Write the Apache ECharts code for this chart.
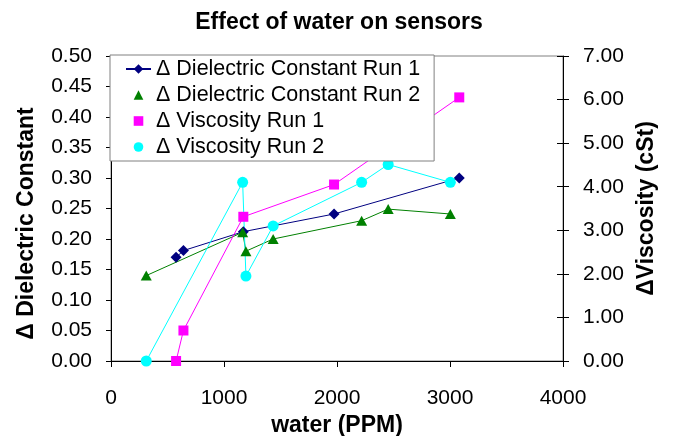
<!DOCTYPE html>
<html>
<head>
<meta charset="utf-8">
<script src="https://cdn.jsdelivr.net/npm/echarts@6/dist/echarts.min.js"></script>
<style>
  html, body { margin: 0; padding: 0; background: #fff; }
  #main { width: 678px; height: 436px; }
</style>
</head>
<body>
<div id="main"></div>
<script>
// run 1 readings
var water1 = [576, 641, 1171, 1974, 3082];
var dielectric1 = [0.170, 0.181, 0.212, 0.241, 0.300];
var viscosity1 = [0.00, 0.70, 3.31, 4.05, 6.05];
// run 2 readings
var water2 = [312, 1165, 1194, 1435, 2218, 2453, 3003];
var dielectric2 = [0.140, 0.211, 0.180, 0.200, 0.230, 0.249, 0.241];
var viscosity2 = [0.00, 4.10, 1.95, 3.10, 4.10, 4.51, 4.10];

var seriesNames = [
  "\u0394 Dielectric Constant Run 1",
  "\u0394 Dielectric Constant Run 2",
  "\u0394 Viscosity Run 1",
  "\u0394 Viscosity Run 2"
];

function pairs(xs, ys) {
  return xs.map(function (x, i) { return [x, ys[i]]; });
}

var font = "Liberation Sans, Arial, sans-serif";
var chartDom = document.getElementById("main");
var myChart = echarts.init(chartDom);
var option;

option = {
  animation: false,
  textStyle: { fontFamily: font },
  title: {
    text: "Effect of water on sensors",
    left: "center",
    top: 6,
    textStyle: { fontFamily: font, fontSize: 23, fontWeight: "bold", color: "#000" }
  },
  grid: {
    left: 111, right: 115, top: 56, bottom: 75,
    outerBoundsMode: "none",
    containLabel: false,
    show: true, borderColor: "#808080", borderWidth: 1
  },
  legend: {
    left: 110, top: 55,
    orient: "vertical",
    backgroundColor: "#fff",
    borderColor: "#808080",
    borderWidth: 1,
    borderRadius: 0,
    padding: [3, 14, 3, 15],
    itemGap: 4,
    itemWidth: 25,
    itemHeight: 12,
    textStyle: { fontFamily: font, fontSize: 21.5, color: "#000", lineHeight: 22 },
    data: [
      { name: seriesNames[0] },
      { name: seriesNames[1], lineStyle: { opacity: 0 } },
      { name: seriesNames[2], lineStyle: { opacity: 0 } },
      { name: seriesNames[3], lineStyle: { opacity: 0 } }
    ]
  },
  xAxis: {
    type: "value",
    min: 0, max: 4000, interval: 1000,
    name: "water (PPM)",
    nameLocation: "middle",
    nameGap: 52,
    nameTextStyle: { fontFamily: font, fontSize: 23, fontWeight: "bold", color: "#000" },
    axisLine: { lineStyle: { color: "#000", width: 1 } },
    axisTick: { length: 6, lineStyle: { color: "#000" } },
    axisLabel: {
      fontFamily: font, fontSize: 21, color: "#000", margin: 27,
      formatter: function (v) { return String(v); }
    },
    splitLine: { show: false }
  },
  yAxis: [
    {
      type: "value",
      position: "left",
      min: 0, max: 0.5, interval: 0.05,
      name: "\u0394 Dielectric Constant",
      nameLocation: "middle",
      nameRotate: 90,
      nameGap: 73,
      nameTextStyle: { fontFamily: font, fontSize: 23, fontWeight: "bold", color: "#000", padding: [0, 0, 0, -30] },
      axisLine: { show: true, lineStyle: { color: "#000", width: 1 } },
      axisTick: { show: true, length: 5, lineStyle: { color: "#000" } },
      axisLabel: {
        fontFamily: font, fontSize: 21, color: "#000", margin: 19,
        formatter: function (v) { return v.toFixed(2); }
      },
      splitLine: { show: false }
    },
    {
      type: "value",
      position: "right",
      min: 0, max: 7, interval: 1,
      name: "\u0394Viscosity (cSt)",
      nameLocation: "middle",
      nameRotate: 90,
      nameGap: 70,
      nameTextStyle: { fontFamily: font, fontSize: 23, fontWeight: "bold", color: "#000" },
      axisLine: { show: true, lineStyle: { color: "#000", width: 1 } },
      axisTick: { show: true, length: 6, lineStyle: { color: "#000" } },
      axisLabel: {
        fontFamily: font, fontSize: 21, color: "#000", margin: 20,
        formatter: function (v) { return v.toFixed(2); }
      },
      splitLine: { show: false }
    },
    {
      // inner half of the crossing ticks on the right axis
      type: "value",
      position: "right",
      min: 0, max: 7, interval: 1,
      axisLine: { show: false },
      axisTick: { show: true, inside: true, length: 6, lineStyle: { color: "#000" } },
      axisLabel: { show: false },
      splitLine: { show: false }
    }
  ],
  series: [
    {
      name: seriesNames[0],
      type: "line",
      yAxisIndex: 0,
      data: pairs(water1, dielectric1),
      symbol: "diamond",
      symbolSize: [11, 11],
      itemStyle: { color: "#000080" },
      lineStyle: { color: "#000080", width: 1 }
    },
    {
      name: seriesNames[1],
      type: "line",
      yAxisIndex: 0,
      data: pairs(water2, dielectric2),
      symbol: "triangle",
      symbolSize: [11, 10],
      itemStyle: { color: "#008000" },
      lineStyle: { color: "#008000", width: 1 }
    },
    {
      name: seriesNames[2],
      type: "line",
      yAxisIndex: 1,
      data: pairs(water1, viscosity1),
      symbol: "rect",
      symbolSize: 10,
      itemStyle: { color: "#FF00FF" },
      lineStyle: { color: "#FF00FF", width: 1 }
    },
    {
      name: seriesNames[3],
      type: "line",
      yAxisIndex: 1,
      data: pairs(water2, viscosity2),
      symbol: "circle",
      symbolSize: 11,
      itemStyle: { color: "#00FFFF" },
      lineStyle: { color: "#00FFFF", width: 1 }
    }
  ]
};

option && myChart.setOption(option);
</script>
</body>
</html>
